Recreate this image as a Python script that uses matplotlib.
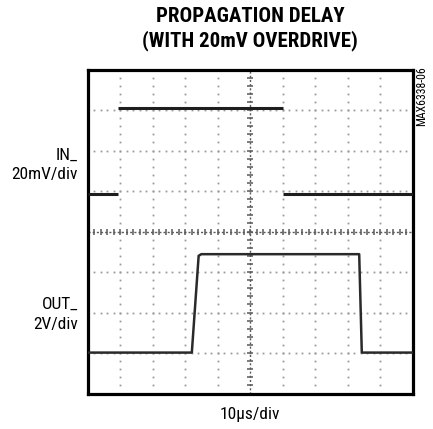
import numpy as np
import matplotlib
matplotlib.use("Agg")
import matplotlib.pyplot as plt
from matplotlib import font_manager as fm

# ---- data (in scope divisions) ----
in_x = [0.0, 0.94, np.nan, 0.94, 6.0, np.nan, 6.0, 10.0]
in_y = [4.93, 4.93, np.nan, 7.05, 7.05, np.nan, 4.93, 4.93]
out_x = [0.0, 3.21, 3.42, 3.5, 8.36, 8.44, 10.0]
out_y = [1.01, 1.01, 3.40, 3.44, 3.44, 1.01, 1.01]

title_lines = ["PROPAGATION DELAY", "(WITH 20mV OVERDRIVE)"]
in_label = ["IN_", "20mV/div"]
out_label = ["OUT_", "2V/div"]
x_label = "10µs/div"
part_id = "MAX6338-06"

# pick a narrow font if one is installed
entries = fm.fontManager.ttflist
names = {f.name for f in entries}
narrow = None
stretch = 'normal'
for cand in ['Liberation Sans Narrow', 'Roboto Condensed', 'Open Sans Condensed',
             'Noto Sans Condensed', 'DejaVu Sans Condensed']:
    if cand in names:
        narrow = cand
        break
if narrow is None:
    for f in entries:
        if f.name == 'DejaVu Sans' and 'Condensed' in f.fname:
            narrow = 'DejaVu Sans'
            stretch = 'condensed'
            break
if narrow is None:
    narrow = 'Roboto'
    scale = 0.85
else:
    scale = 1.0

plt.rcParams['font.family'] = [narrow, 'DejaVu Sans']

W, H = 433, 429
fig = plt.figure(figsize=(W / 100, H / 100), dpi=100)
L, R, T, B = 87.5, 412.5, 69.5, 393.5
ax = fig.add_axes([L / W, 1 - B / H, (R - L) / W, (B - T) / H])
ax.set_xlim(0, 10)
ax.set_ylim(0, 8)
ax.set_xticks([])
ax.set_yticks([])
for s in ax.spines.values():
    s.set_linewidth(2.3)
    s.set_color('black')

gcol = '#9a9a9a'
minor_y = np.arange(0, 8.001, 0.2)
minor_x = np.arange(0, 10.001, 0.2)
for gx in range(1, 10):
    if gx == 5:
        continue
    ax.plot(np.full_like(minor_y, gx), minor_y, ls='none', marker='s',
            ms=1.3, mew=0, color=gcol, zorder=1)
for gy in range(1, 8):
    if gy == 4:
        continue
    ax.plot(minor_x, np.full_like(minor_x, gy), ls='none', marker='s',
            ms=1.3, mew=0, color=gcol, zorder=1)
# centre cross with minor ticks
ccol = '#5a5a5a'
ax.plot([5, 5], [0, 8], ls=(0, (1.5, 1.5)), lw=1.0, color=ccol, zorder=1)
ax.plot([0, 10], [4, 4], ls=(0, (1.5, 1.5)), lw=1.0, color=ccol, zorder=1)
ax.plot(np.full_like(minor_y, 5), minor_y, ls='none', marker='_', ms=4.0,
        mew=1.1, color=ccol, zorder=1)
ax.plot(minor_x, np.full_like(minor_x, 4), ls='none', marker='|', ms=4.0,
        mew=1.1, color=ccol, zorder=1)

ax.plot(in_x, in_y, color='#1e1e1e', lw=2.2, solid_capstyle='butt', zorder=3)
ax.plot(out_x, out_y, color='#2a2a2a', lw=1.8, solid_joinstyle='round', zorder=3)

def px(x, y):
    return x / W, 1 - y / H

kw = dict(fontstretch=stretch)
fig.text(*px(250, 16), title_lines[0], ha='center', va='center',
         fontsize=15 * scale, fontweight='bold', **kw)
fig.text(*px(250, 41), title_lines[1], ha='center', va='center',
         fontsize=15 * scale, fontweight='bold', **kw)
fs = 12.5 * scale
fig.text(*px(78, 155), in_label[0], ha='right', va='center', fontsize=fs, **kw)
fig.text(*px(78, 174), in_label[1], ha='right', va='center', fontsize=fs, **kw)
fig.text(*px(78, 304), out_label[0], ha='right', va='center', fontsize=fs, **kw)
fig.text(*px(78, 324), out_label[1], ha='right', va='center', fontsize=fs, **kw)
fig.text(*px(250, 414), x_label, ha='center', va='center', fontsize=fs, **kw)
fig.text(*px(422, 66), part_id, ha='center', va='top', rotation=90,
         fontsize=8.5 * scale, **kw)

fig.savefig('out.png', dpi=100)
